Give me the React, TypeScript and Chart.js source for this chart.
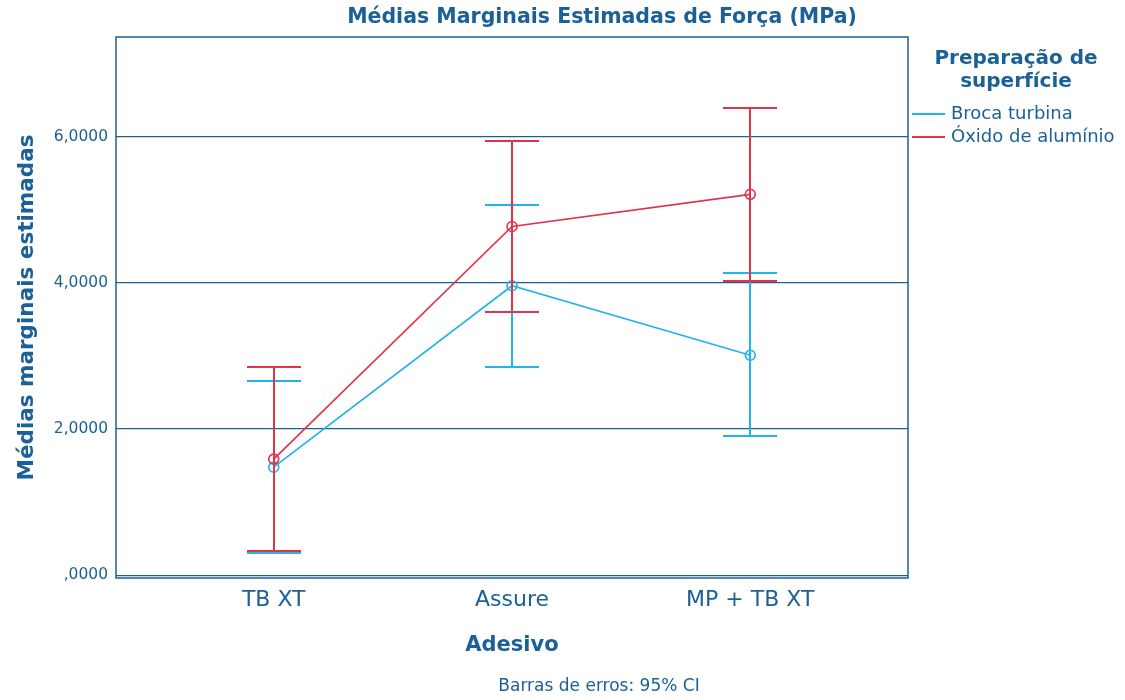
import { useEffect, useRef } from "react";
import { Chart, registerables } from "chart.js";

Chart.register(...registerables);

// Adesivos (eixo X)
const adesivos = ["TB XT", "Assure", "MP + TB XT"];

// Broca turbina: médias e limites do IC 95%
const brocaMedia = [1.48, 3.96, 3.01];
const brocaInf = [0.31, 2.85, 1.91];
const brocaSup = [2.66, 5.06, 4.14];

// Óxido de alumínio: médias e limites do IC 95%
const oxidoMedia = [1.59, 4.77, 5.21];
const oxidoInf = [0.33, 3.6, 4.03];
const oxidoSup = [2.85, 5.94, 6.39];

const yTicks = [0, 2, 4, 6];

const AZUL = "#22b4e9";
const VERMELHO = "#e0344a";
const TEXTO = "#1b6198";
const LINHA = "#1f5f94";
const FONTE = "'DejaVu Sans', sans-serif";

const formatarSpss = (v: number) => {
  const s = v.toFixed(4).replace(".", ",");
  return s.startsWith("0,") ? s.slice(1) : s;
};

const barrasErro = [
  { inf: brocaInf, sup: brocaSup, cor: AZUL },
  { inf: oxidoInf, sup: oxidoSup, cor: VERMELHO },
];

const errorBarsPlugin = {
  id: "errorBars",
  afterDatasetDraw(chart: any, args: any) {
    const barra = barrasErro[args.index];
    if (!barra) return;
    const { ctx, scales } = chart;
    const x = scales.x;
    const y = scales.y;
    const meia = 27;
    ctx.save();
    ctx.strokeStyle = barra.cor;
    ctx.lineWidth = 2;
    barra.inf.forEach((inf: number, i: number) => {
      const px = Math.round(x.getPixelForValue(i));
      const pInf = Math.round(y.getPixelForValue(inf));
      const pSup = Math.round(y.getPixelForValue(barra.sup[i]));
      ctx.beginPath();
      ctx.moveTo(px, pInf);
      ctx.lineTo(px, pSup);
      ctx.moveTo(px - meia, pInf);
      ctx.lineTo(px + meia, pInf);
      ctx.moveTo(px - meia, pSup);
      ctx.lineTo(px + meia, pSup);
      ctx.stroke();
    });
    ctx.restore();
  },
};

const framePlugin = {
  id: "frame",
  afterDatasetsDraw(chart: any) {
    const { ctx, chartArea: a } = chart;
    ctx.save();
    ctx.strokeStyle = LINHA;
    ctx.lineWidth = 1.5;
    ctx.strokeRect(a.left, a.top, a.right - a.left, a.bottom - a.top);
    ctx.restore();
  },
};

const textosPlugin = {
  id: "textos",
  afterDraw(chart: any) {
    const { ctx } = chart;
    ctx.save();
    ctx.fillStyle = TEXTO;
    ctx.textBaseline = "middle";

    // Título principal
    ctx.textAlign = "center";
    ctx.font = `bold 20.5px ${FONTE}`;
    ctx.fillText("Médias Marginais Estimadas de Força (MPa)", 602, 18);

    // Legenda
    ctx.font = `bold 20px ${FONTE}`;
    ctx.fillText("Preparação de", 1016, 59);
    ctx.fillText("superfície", 1016, 82);

    const itens = [
      { nome: "Broca turbina", cor: AZUL, y: 114 },
      { nome: "Óxido de alumínio", cor: VERMELHO, y: 137 },
    ];
    ctx.textAlign = "left";
    ctx.font = `18px ${FONTE}`;
    itens.forEach((it) => {
      ctx.strokeStyle = it.cor;
      ctx.lineWidth = 2;
      ctx.beginPath();
      ctx.moveTo(912, it.y);
      ctx.lineTo(945, it.y);
      ctx.stroke();
      ctx.fillStyle = TEXTO;
      ctx.fillText(it.nome, 951, it.y);
    });

    // Nota de rodapé
    ctx.textAlign = "center";
    ctx.font = `17px ${FONTE}`;
    ctx.fillText("Barras de erros: 95% CI", 599, 687);
    ctx.restore();
  },
};

export default function App() {
  const canvasRef = useRef<HTMLCanvasElement | null>(null);

  useEffect(() => {
    document.body.style.margin = "0";
    const canvas = canvasRef.current;
    if (!canvas) return;

    const ponto = {
      pointStyle: "circle",
      pointRadius: 5,
      pointBorderWidth: 1.6,
      pointBackgroundColor: "rgba(0,0,0,0)",
      borderWidth: 1.7,
      tension: 0,
    };

    const chart = new Chart(canvas, {
      type: "line",
      data: {
        datasets: [
          {
            label: "Broca turbina",
            data: brocaMedia.map((v, i) => ({ x: i, y: v })),
            borderColor: AZUL,
            pointBorderColor: AZUL,
            order: 1,
            ...ponto,
          } as any,
          {
            label: "Óxido de alumínio",
            data: oxidoMedia.map((v, i) => ({ x: i, y: v })),
            borderColor: VERMELHO,
            pointBorderColor: VERMELHO,
            order: 0,
            ...ponto,
          } as any,
        ],
      },
      options: {
        animation: false,
        responsive: true,
        maintainAspectRatio: false,
        layout: { padding: { left: 0, top: 37, right: 217, bottom: 0 } },
        plugins: {
          legend: { display: false },
          tooltip: { enabled: false },
          title: { display: false },
        },
        scales: {
          x: {
            type: "linear",
            min: -0.662,
            max: 2.662,
            afterFit: (s: any) => {
              s.height = 122;
            },
            afterBuildTicks: (s: any) => {
              s.ticks = adesivos.map((_, i) => ({ value: i }));
            },
            grid: { display: false, drawTicks: false },
            border: { display: false },
            ticks: {
              padding: 9,
              color: TEXTO,
              font: { family: FONTE, size: 22 },
              callback: (v: any) => adesivos[v] ?? "",
            },
            title: {
              display: true,
              text: "Adesivo",
              color: TEXTO,
              font: { family: FONTE, size: 21, weight: "bold" },
              padding: { top: 0, bottom: 42 },
            },
          },
          y: {
            type: "linear",
            min: -0.035,
            max: 7.36,
            afterFit: (s: any) => {
              s.width = 116;
            },
            afterBuildTicks: (s: any) => {
              s.ticks = yTicks.map((v) => ({ value: v }));
            },
            grid: { color: LINHA, lineWidth: 1.3, drawTicks: false },
            border: { display: false },
            ticks: {
              padding: 8,
              color: TEXTO,
              font: { family: FONTE, size: 15.5 },
              callback: (v: any) => formatarSpss(Number(v)),
            },
            title: {
              display: true,
              text: "Médias marginais estimadas",
              color: TEXTO,
              font: { family: FONTE, size: 21.5, weight: "bold" },
              padding: { top: 15, bottom: 0 },
            },
          },
        },
      } as any,
      plugins: [errorBarsPlugin, framePlugin, textosPlugin],
    });

    return () => chart.destroy();
  }, []);

  return (
    <div style={{ width: 1125, height: 700, position: "relative", background: "#fff" }}>
      <canvas ref={canvasRef} />
    </div>
  );
}
